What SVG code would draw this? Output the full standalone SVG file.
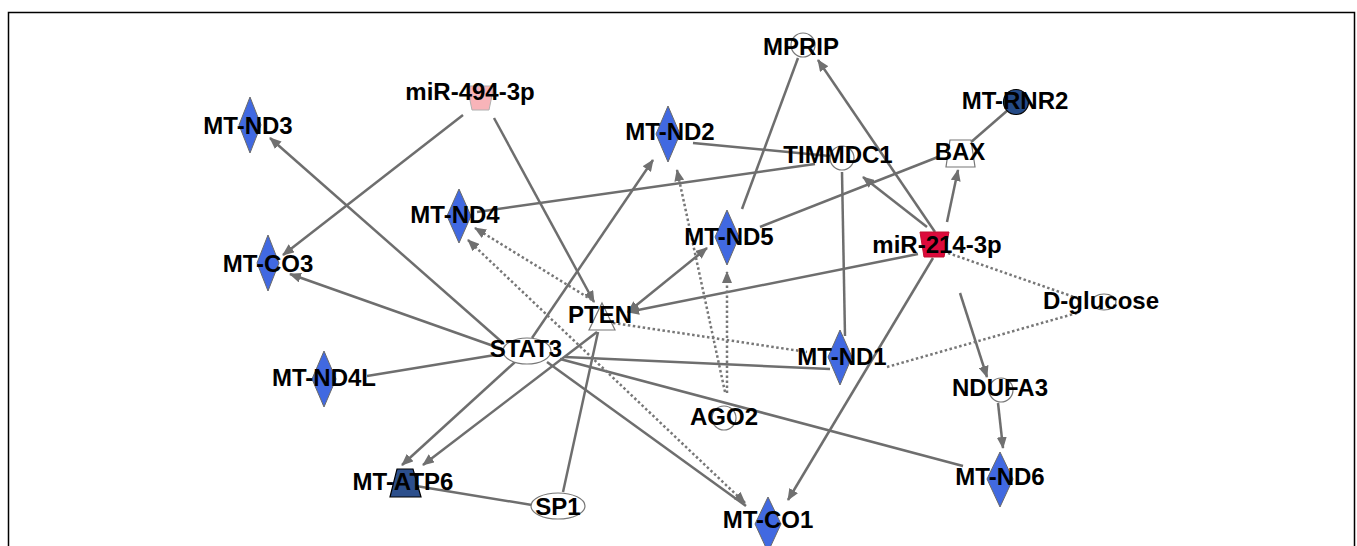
<svg xmlns="http://www.w3.org/2000/svg" width="1357" height="546" viewBox="0 0 1357 546">
<defs>
<marker id="ah" viewBox="0 0 12 10" refX="11" refY="5" markerWidth="12" markerHeight="10" markerUnits="userSpaceOnUse" orient="auto-start-reverse">
<path d="M0,0 L12,5 L0,10 z" fill="#707070"/>
</marker>
<style>
.e{stroke:#6e6e6e;stroke-width:2.5;fill:none}
.d{stroke:#777;stroke-width:2.5;fill:none;stroke-dasharray:2.5 2.5}
.a{marker-end:url(#ah)}
.b{marker-start:url(#ah);marker-end:url(#ah)}
.dia{fill:#4169e1;stroke:#6a6a6a;stroke-width:1}
.wh{fill:#fff;stroke:#777;stroke-width:1.2}
text{font-family:"Liberation Sans",Arial,sans-serif;font-weight:bold;font-size:24px;fill:#000;text-anchor:middle}
</style>
</defs>
<rect x="0" y="0" width="1357" height="546" fill="#fff"/>
<rect x="8.5" y="12.5" width="1346" height="560" fill="none" stroke="#000" stroke-width="1.5"/>
<g id="connectors">
<line class="e a" x1="463" y1="115" x2="283" y2="255"/>
<line class="e a" x1="494" y1="118" x2="594" y2="302"/>
<line class="e a" x1="503" y1="343" x2="270" y2="138"/>
<line class="e a" x1="502" y1="349" x2="290" y2="274"/>
<line class="e a" x1="532" y1="338" x2="653" y2="160"/>
<line class="e a" x1="515" y1="362" x2="402" y2="465"/>
<line class="e a" x1="597" y1="332" x2="423" y2="465"/>
<line class="e a" x1="918" y1="254" x2="628" y2="312"/>
<line class="e b" x1="628" y1="312" x2="707" y2="248"/>
<line class="e a" x1="935" y1="232" x2="818" y2="60"/>
<line class="e a" x1="927" y1="227" x2="863" y2="177"/>
<line class="e a" x1="947" y1="222" x2="958" y2="170"/>
<line class="e a" x1="933" y1="258" x2="788" y2="500"/>
<line class="e a" x1="960" y1="293" x2="987" y2="377"/>
<line class="e a" x1="998" y1="403" x2="1003" y2="448"/>
<line class="e" x1="495" y1="355" x2="367" y2="376"/>
<line class="e" x1="563" y1="492" x2="598" y2="332"/>
<line class="e" x1="532" y1="505" x2="416" y2="486"/>
<line class="e" x1="815" y1="164" x2="477" y2="212"/>
<line class="e" x1="693" y1="143" x2="840" y2="157"/>
<line class="e" x1="742" y1="209" x2="798" y2="58"/>
<line class="e" x1="760" y1="227" x2="938" y2="157"/>
<line class="e" x1="1008" y1="110" x2="970" y2="143"/>
<line class="e" x1="842" y1="172" x2="845" y2="336"/>
<line class="e" x1="565" y1="357" x2="830" y2="369"/>
<line class="e" x1="560" y1="359" x2="963" y2="466"/>
<line class="e" x1="547" y1="362" x2="746" y2="506"/>
<line class="d a" x1="592" y1="300" x2="475" y2="228"/>
<line class="d b" x1="745" y1="503" x2="468" y2="240"/>
<line class="d" x1="613" y1="323" x2="807" y2="352"/>
<line class="d" x1="887" y1="367" x2="1077" y2="313"/>
<line class="d" x1="948" y1="253" x2="1077" y2="298"/>
<line class="d a" x1="727" y1="393" x2="727" y2="272"/>
<line class="d a" x1="725" y1="392" x2="677" y2="170"/>
</g>
<g id="MT-ND3"><polygon class="dia" points="250,97 261,125 250,153 239,125"/><text x="248" y="134">MT-ND3</text></g>
<g id="MT-CO3"><polygon class="dia" points="268,235 279,263 268,291 257,263"/><text x="268" y="272">MT-CO3</text></g>
<g id="miR-494-3p"><polygon points="467,86 494,86 489,110 472,110" fill="#f8b4b9" stroke="#b0b0b0" stroke-width="1"/><text x="470" y="100">miR-494-3p</text></g>
<g id="MT-ND2"><polygon class="dia" points="668,106 680,134 668,162 656,134"/><text x="670" y="140">MT-ND2</text></g>
<g id="MPRIP"><circle class="wh" cx="803" cy="45" r="12"/><text x="801" y="55">MPRIP</text></g>
<g id="TIMMDC1"><circle class="wh" cx="842" cy="158" r="12"/><text x="838" y="163">TIMMDC1</text></g>
<g id="MT-ND4"><polygon class="dia" points="459,189 471,216 459,243 447,216"/><text x="455" y="223">MT-ND4</text></g>
<g id="MT-ND5"><polygon class="dia" points="727,210 739,237 727,265 715,237"/><text x="729" y="245">MT-ND5</text></g>
<g id="BAX"><polygon class="wh" points="950,140 971,140 975,167 946,167"/><text x="960" y="160">BAX</text></g>
<g id="MT-RNR2"><circle cx="1016" cy="102" r="12.5" fill="#244a86" stroke="#000" stroke-width="1.2"/><text x="1015" y="109">MT-RNR2</text></g>
<g id="miR-214-3p"><polygon points="920,232 949,232 944,257 924,257" fill="#dc0a3c" stroke="#c0102f" stroke-width="1"/><text x="937" y="253">miR-214-3p</text></g>
<g id="D-glucose"><ellipse class="wh" cx="1104" cy="302" rx="12" ry="8"/><text x="1101" y="309">D-glucose</text></g>
<g id="NDUFA3"><circle class="wh" cx="1001" cy="390" r="12"/><text x="1000" y="396">NDUFA3</text></g>
<g id="MT-ND6"><polygon class="dia" points="1000,452 1013,479 1000,507 987,479"/><text x="1000" y="485">MT-ND6</text></g>
<g id="MT-ND1"><polygon class="dia" points="840,330 852,357 840,385 828,357"/><text x="842" y="365">MT-ND1</text></g>
<g id="AGO2"><circle class="wh" cx="724" cy="418" r="12"/><text x="724" y="425">AGO2</text></g>
<g id="MT-CO1"><polygon class="dia" points="768,497 781,524 768,552 755,524"/><text x="768" y="528">MT-CO1</text></g>
<g id="SP1"><ellipse class="wh" cx="558" cy="506" rx="27" ry="13"/><text x="558" y="515">SP1</text></g>
<g id="STAT3"><ellipse class="wh" cx="527" cy="351" rx="24" ry="13"/><text x="526" y="357">STAT3</text></g>
<g id="PTEN"><polygon class="wh" points="602,303 615,330 589,330"/><text x="600" y="323">PTEN</text></g>
<g id="MT-ND4L"><polygon class="dia" points="324,351 336,379 324,407 312,379"/><text x="324" y="386">MT-ND4L</text></g>
<g id="MT-ATP6"><polygon points="397,469 413,469 421,497 390,497" fill="#2c4f8c" stroke="#000" stroke-width="1.2"/><text x="403" y="490">MT-ATP6</text></g>
</svg>
